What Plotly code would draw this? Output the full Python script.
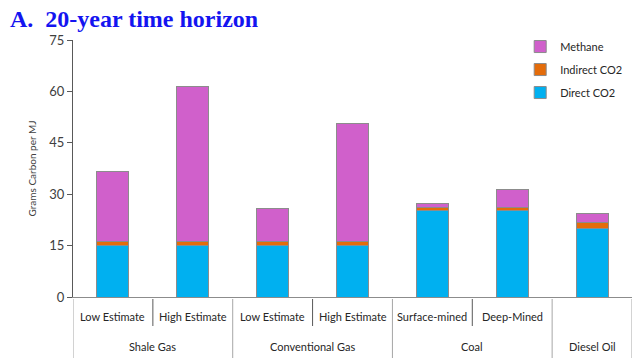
import plotly.graph_objects as go

groups = ["Shale Gas", "Shale Gas", "Conventional Gas", "Conventional Gas", "Coal", "Coal", "Diesel Oil"]
subcats = ["Low Estimate", "High Estimate", "Low Estimate", "High Estimate", "Surface-mined", "Deep-Mined", ""]
direct_co2 = [15.0, 15.0, 15.0, 15.0, 25.1, 25.1, 20.0]
indirect_co2 = [1.2, 1.2, 1.2, 1.2, 1.0, 1.0, 1.7]
methane = [20.5, 45.3, 9.7, 34.3, 1.3, 5.4, 2.6]

y_ticks = [0, 15, 30, 45, 60, 75]

series = [
    ("Direct CO2", direct_co2, "#00B0F0", 3),
    ("Indirect CO2", indirect_co2, "#E46C0A", 2),
    ("Methane", methane, "#D060CB", 1),
]

idx = list(range(len(subcats)))

fig = go.Figure()
for name, vals, col, rank in series:
    fig.add_trace(go.Bar(
        x=idx, y=vals, name=name,
        marker=dict(color=col, line=dict(color="#8C8C8C", width=1)),
        legendgroup=name, legendrank=rank,
    ))

# figure size (page body adds an 8px margin)
W, H = 632, 355
L, R, T, B = 65, 8, 32, 66
ph = H - T - B
def py(px_below):
    return -px_below / ph

annotations = []
shapes = []
# inner labels
for i, lab in enumerate(subcats):
    if lab:
        annotations.append(dict(x=i, y=py(19), xref="x", yref="paper", text=lab, showarrow=False,
                                xanchor="center", yanchor="middle",
                                font=dict(family="Lato", size=11, color="#262626")))
# group labels and dividers
start = 0
bounds = [-0.5]
for i in range(1, len(groups) + 1):
    if i == len(groups) or groups[i] != groups[start]:
        annotations.append(dict(x=(start + i - 1) / 2, y=py(49), xref="x", yref="paper", text=groups[start],
                                showarrow=False, xanchor="center", yanchor="middle",
                                font=dict(family="Lato", size=11, color="#262626")))
        bounds.append(i - 0.5)
        start = i
    else:
        shapes.append(dict(type="line", xref="x", yref="paper", x0=i - 0.5, x1=i - 0.5,
                           y0=py(2), y1=py(29), line=dict(color="#595959", width=1)))
for b in bounds:
    shapes.append(dict(type="line", xref="x", yref="paper", x0=b, x1=b,
                       y0=py(2), y1=py(61), line=dict(color="#A6A6A6", width=1)))

fig.update_layout(
    width=W, height=H,
    barmode="stack", bargap=0.6,
    plot_bgcolor="white", paper_bgcolor="white",
    margin=dict(l=L, r=R, t=T, b=B),
    font=dict(family="Lato", size=11, color="#262626"),
    title=dict(text="<b>A.  20-year time horizon</b>", xref="container", x=2 / W, xanchor="left",
               yref="container", y=1 - 2 / H, yanchor="top",
               font=dict(family="Liberation Serif", size=24, color="#1414F0")),
    legend=dict(x=0.80, y=1.031, xanchor="left", yanchor="top", traceorder="grouped",
                tracegroupgap=4, itemwidth=30, font=dict(size=11, color="#262626"),
                bgcolor="rgba(0,0,0,0)"),
    showlegend=True,
    annotations=annotations,
    shapes=shapes,
)
fig.update_yaxes(range=[0, 75], tickvals=y_ticks, showgrid=False, zeroline=False, automargin=False,
                 showline=True, linecolor="#595959", linewidth=1, ticks="outside", ticklen=5,
                 tickcolor="#595959", tickfont=dict(size=13, color="#404040"),
                 title=dict(text="Grams Carbon per MJ", font=dict(size=10, color="#404040"), standoff=10))
fig.update_xaxes(range=[-0.5, len(idx) - 0.5], showline=True, linecolor="#8C8C8C", linewidth=1,
                 ticks="", showticklabels=False, showgrid=False, zeroline=False, automargin=False)

fig.write_html("out.html")
